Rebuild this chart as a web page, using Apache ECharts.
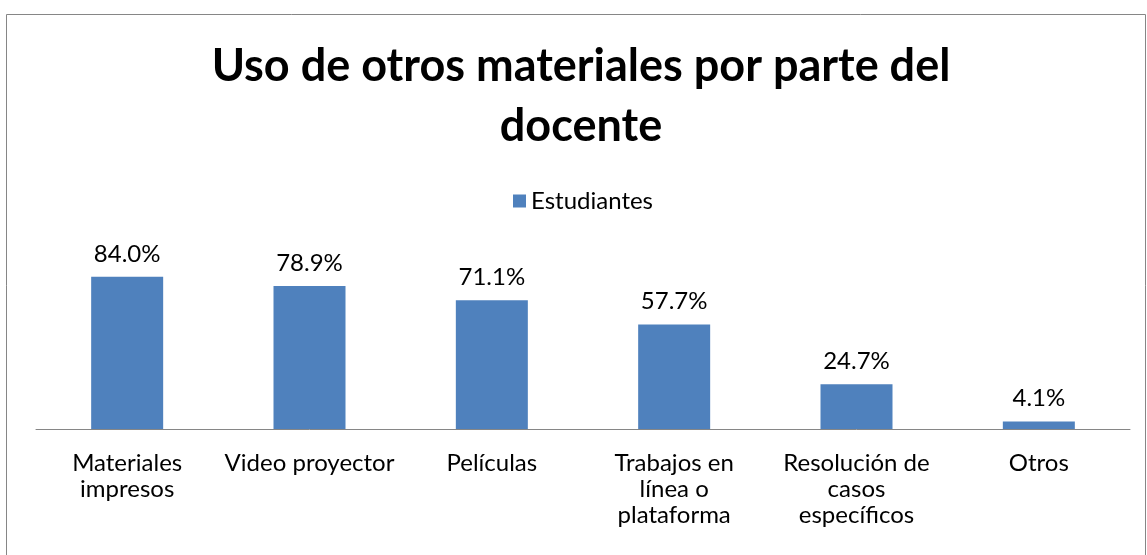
<!DOCTYPE html>
<html>
<head>
<meta charset="utf-8">
<script src="https://cdn.jsdelivr.net/npm/echarts@6/dist/echarts.min.js"></script>
<style>
  html, body { margin: 0; padding: 0; background: #fff; }
  #chart { width: 1147px; height: 555px; }
</style>
</head>
<body>
<div id="chart"></div>
<script>
// datos del grafico
var categorias = ['Materiales\nimpresos', 'Video proyector', 'Películas', 'Trabajos en\nlínea o\nplataforma', 'Resolución de\ncasos\nespecíficos', 'Otros'];
var estudiantes = [84.0, 78.9, 71.1, 57.7, 24.7, 4.1];
var titulo = 'Uso de otros materiales por parte del\ndocente';
var fuente = 'Lato, Carlito, "Noto Sans", sans-serif';

var chart = echarts.init(document.getElementById('chart'));
chart.setOption({
  animation: false,
  textStyle: { fontFamily: fuente },
  title: {
    text: titulo,
    left: 576,
    textAlign: 'center',
    top: 31,
    textStyle: { fontSize: 45, fontWeight: 'bold', color: '#000', lineHeight: 60, fontFamily: fuente }
  },
  legend: {
    top: 184,
    left: 508,
    itemWidth: 13,
    itemHeight: 13,
    itemGap: 7,
    icon: 'rect',
    textStyle: { fontSize: 24, color: '#000', fontFamily: fuente },
    data: ['Estudiantes']
  },
  graphic: [{
    type: 'rect',
    shape: { x: 6.5, y: 14.5, width: 1139, height: 600 },
    style: { fill: 'none', stroke: '#868686', lineWidth: 1 },
    silent: true
  }],
  grid: { left: 36, right: 17, top: 266, bottom: 126 },
  xAxis: {
    type: 'category',
    data: categorias,
    axisLine: { lineStyle: { color: '#868686', width: 1 } },
    axisTick: { show: false },
    axisLabel: { interval: 0, fontSize: 24, color: '#000', lineHeight: 26, margin: 21, fontFamily: fuente }
  },
  yAxis: {
    type: 'value',
    min: 0,
    max: 90,
    show: false,
    splitLine: { show: false }
  },
  series: [{
    name: 'Estudiantes',
    type: 'bar',
    data: estudiantes,
    barWidth: 72,
    itemStyle: { color: '#4F81BD' },
    label: {
      show: true,
      position: 'top',
      distance: 11,
      fontSize: 24,
      color: '#000',
      fontFamily: fuente,
      formatter: function (p) { return p.value.toFixed(1) + '%'; }
    }
  }]
});
</script>
</body>
</html>
